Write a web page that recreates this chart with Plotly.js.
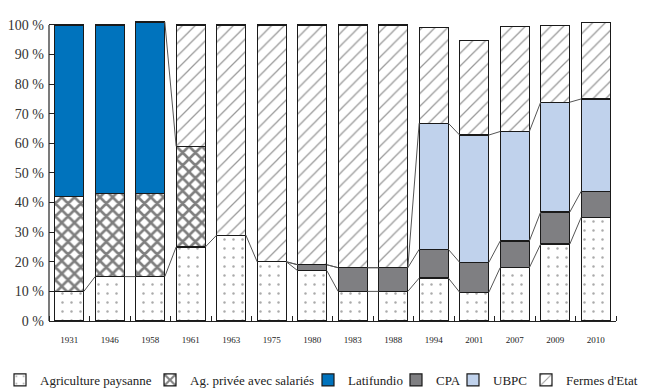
<!DOCTYPE html>
<html>
<head>
<meta charset="utf-8">
<script src="https://cdn.plot.ly/plotly-3.0.1.min.js"></script>
<style>html,body{margin:0;padding:0;background:#fff;}#chart{width:649px;height:391px;}</style>
</head>
<body>
<div id="chart"></div>
<script>
const years = ['1931','1946','1958','1961','1963','1975','1980','1983','1988','1994','2001','2007','2009','2010'];
const agriPaysanne = [10, 15, 15, 25, 29, 20, 17, 10, 10, 14.5, 9.7, 18, 26, 35];
const agPrivee     = [32, 28, 28, 34, null, null, null, null, null, null, null, null, null, null];
const latifundio   = [58, 57, 58, null, null, null, null, null, null, null, null, null, null, null];
const cpa          = [null, null, null, null, null, null, 2, 8, 8, 9.7, 10.1, 9, 10.8, 8.8];
const ubpc         = [null, null, null, null, null, null, null, null, null, 42.6, 43, 37, 37.1, 31.2];
const fermes       = [null, null, null, 41, 71, 80, 81, 82, 82, 32.4, 32, 35.5, 26, 25.9];
const yTicks = [0,10,20,30,40,50,60,70,80,90,100];
const seriesNames = ['Agriculture paysanne', 'Ag. privée avec salariés', 'Latifundio', 'CPA', 'UBPC', "Fermes d'Etat"];
// connectors: for each gap (from bar i to i+1), which stacked boundary levels are joined
const connectorLevels = [[0],[0],[0,2],[0],[0],[0,3,4],[0,3,4],[0,3,4],[0,3,4],[0,3,4],[0,3,4],[0,3,4],[0,3,4]];

const allSeries = [agriPaysanne, agPrivee, latifundio, cpa, ubpc, fermes];
const idx = years.map((_, i) => i);
const BW = 0.72;
const line = {color: '#1a1a1a', width: 1.2};

const styles = [
  {color: '#fff', pattern: {shape: '.', fgcolor: '#555', bgcolor: '#fff', size: 9, solidity: 0.06, fillmode: 'overlay'}},
  {color: '#fff', pattern: {shape: 'x', fgcolor: '#000', bgcolor: '#fff', size: 9, solidity: 0.5, fillmode: 'overlay'}},
  {color: '#0073BD'},
  {color: '#7f7f82'},
  {color: '#c0d2ec'},
  {color: '#fff', pattern: {shape: '/', fgcolor: '#333', bgcolor: '#fff', size: 9, solidity: 0.14, fillmode: 'overlay'}}
];

const legendIds = ['legend', 'legend2', 'legend3', 'legend4', 'legend5', 'legend6'];
const traces = allSeries.map((s, k) => ({
  type: 'bar', x: idx, y: s, name: seriesNames[k], width: BW,
  marker: Object.assign({line: line}, styles[k]),
  legend: legendIds[k],
  hoverinfo: 'skip'
}));

function cum(i, level) {
  let t = 0;
  for (let k = 0; k <= level; k++) t += (allSeries[k][i] || 0);
  return t;
}
const cx = [], cy = [];
connectorLevels.forEach((levels, i) => {
  levels.forEach(l => {
    cx.push(i + BW/2, i + 1 - BW/2, null);
    cy.push(cum(i, l), cum(i + 1, l), null);
  });
});
traces.push({type: 'scatter', mode: 'lines', x: cx, y: cy, showlegend: false, hoverinfo: 'skip',
  line: {color: '#555', width: 1}, connectgaps: false});

const serif = "'Liberation Serif', 'Times New Roman', serif";
// legend text start positions (px) in the figure
const legendTextX = [32, 190, 348, 436, 493, 566];
const layout = {
  width: 649, height: 391,
  margin: {l: 49, r: 33, t: 19, b: 70},
  barmode: 'stack',
  paper_bgcolor: '#fff', plot_bgcolor: '#fff',
  showlegend: true,
  xaxis: {
    range: [-0.5, 13.5], tickvals: idx, ticktext: years, ticks: '',
    showgrid: false, zeroline: false, showline: true, linecolor: '#222', linewidth: 1.2,
    tickfont: {family: serif, size: 9, color: '#222'}, ticklabelstandoff: 10,
    minor: {tickvals: idx.concat([14]).map(v => v - 0.5), ticks: 'inside', ticklen: 5, tickcolor: '#222', tickwidth: 1, showgrid: false}
  },
  yaxis: {
    range: [0, 102], tickvals: yTicks, ticktext: yTicks.map(v => v + ' %'),
    ticks: 'inside', ticklen: 5, tickcolor: '#222', showgrid: false, zeroline: false, showline: false,
    tickfont: {family: serif, size: 14, color: '#333'}, ticklabelstandoff: 4
  },
  shapes: [{type: 'line', xref: 'paper', yref: 'y', x0: 0, x1: 0, y0: 0, y1: 100, line: {color: '#222', width: 1.2}}]
};
legendIds.forEach((id, k) => {
  layout[id] = {orientation: 'h', xref: 'paper', yref: 'container',
    x: (legendTextX[k] - 40 - 49) / 567, xanchor: 'left', y: 1 - 380 / 391, yanchor: 'middle',
    font: {family: serif, size: 13, color: '#222'}, itemclick: false, bgcolor: 'rgba(0,0,0,0)', borderwidth: 0};
});
Plotly.newPlot('chart', traces, layout, {displayModeBar: false, staticPlot: true});
</script>
</body>
</html>
